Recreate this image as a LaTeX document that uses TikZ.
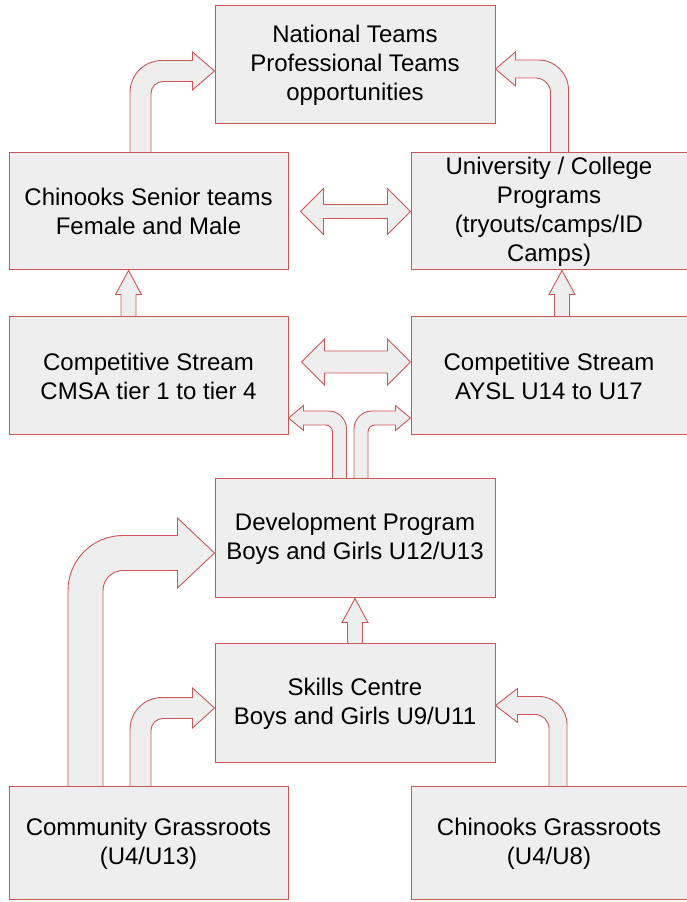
\documentclass[tikz,border=0pt]{standalone}
\usepackage{fontspec}
\setmainfont{Liberation Sans}
\usetikzlibrary{positioning, calc}
\definecolor{boxred}{RGB}{205,85,85}
\definecolor{boxgray}{RGB}{238,238,238}
\tikzset{
    block/.style={
        draw=boxred, fill=boxgray, line width=1pt,
        minimum width=279pt, minimum height=118pt,
        inner sep=0pt, align=center,
        font=\fontsize{24}{29}\selectfont
    },
    fat/.style={draw=boxred, fill=boxgray, line width=0.9pt, line join=miter}
}
% straight block arrow: #1 foot, #2 tip (only its y is used)
\newcommand{\fatup}[2]{%
  \draw[fat] let \p1=(#1), \p2=(#2) in
    (\x1-7.5pt,\y1) -- (\x1-7.5pt,\y2-24pt) -- (\x1-13pt,\y2-24pt) -- (\x1,\y2)
    -- (\x1+13pt,\y2-24pt) -- (\x1+7.5pt,\y2-24pt) -- (\x1+7.5pt,\y1) -- cycle;}
% double block arrow: #1 left tip, #2 right tip, #3 half shaft
\newcommand{\fatboth}[3]{%
  \draw[fat] let \p1=(#1), \p2=(#2) in
    (\x1,\y1) -- (\x1+23pt,\y1+23pt) -- (\x1+23pt,\y1+#3pt) -- (\x2-23pt,\y1+#3pt)
    -- (\x2-23pt,\y1+23pt) -- (\x2,\y1) -- (\x2-23pt,\y1-23pt) -- (\x2-23pt,\y1-#3pt)
    -- (\x1+23pt,\y1-#3pt) -- (\x1+23pt,\y1-23pt) -- cycle;}
% bent block arrows: #1 foot, #2 tip, #3 half shaft, #4 half head,
% #5 head length, #6 outer radius, #7 inner radius
\newcommand{\bendright}[7]{%
  \draw[fat] let \p1=(#1), \p2=(#2) in
    (\x1-#3pt,\y1) -- (\x1-#3pt,\y2+#3pt-#6pt)
    arc[start angle=180, end angle=90, radius=#6pt]
    -- (\x2-#5pt,\y2+#3pt) -- (\x2-#5pt,\y2+#4pt) -- (\x2,\y2)
    -- (\x2-#5pt,\y2-#4pt) -- (\x2-#5pt,\y2-#3pt) -- (\x1+#3pt+#7pt,\y2-#3pt)
    arc[start angle=90, end angle=180, radius=#7pt]
    -- (\x1+#3pt,\y1) -- cycle;}
\newcommand{\bendleft}[7]{%
  \draw[fat] let \p1=(#1), \p2=(#2) in
    (\x1+#3pt,\y1) -- (\x1+#3pt,\y2+#3pt-#6pt)
    arc[start angle=0, end angle=90, radius=#6pt]
    -- (\x2+#5pt,\y2+#3pt) -- (\x2+#5pt,\y2+#4pt) -- (\x2,\y2)
    -- (\x2+#5pt,\y2-#4pt) -- (\x2+#5pt,\y2-#3pt) -- (\x1-#3pt-#7pt,\y2-#3pt)
    arc[start angle=90, end angle=0, radius=#7pt]
    -- (\x1-#3pt,\y1) -- cycle;}

\begin{document}
\begin{tikzpicture}[x=1pt, y=1pt]

    \useasboundingbox (0,0) rectangle (687,902);

    % top
    \node[block, minimum width=280pt] (national) at (355,837) {National Teams\\Professional Teams\\opportunities};

    % senior level
    \node[block, minimum height=117pt] (senior) at (148.5,690.5) {Chinooks Senior teams\\Female and Male};
    \node[block, minimum width=276pt, minimum height=117pt, right=122pt of senior] (univ) {University / College\\Programs\\(tryouts/camps/ID\\Camps)};

    % competitive streams
    \node[block, below=46pt of senior] (compl) {Competitive Stream\\CMSA tier 1 to tier 4};
    \node[block, minimum width=276pt, below=46pt of univ] (compr) {Competitive Stream\\AYSL U14 to U17};

    % development and skills
    \node[block, minimum width=280pt, minimum height=119pt] (devel) at (355,363.5) {Development Program\\Boys and Girls U12/U13};
    \node[block, minimum width=280pt, minimum height=119pt, below=45pt of devel] (skills) {Skills Centre\\Boys and Girls U9/U11};

    % grassroots
    \node[block, minimum height=113pt] (community) at (148.5,58.5) {Community Grassroots\\(U4/U13)};
    \node[block, minimum width=276pt, minimum height=113pt, right=122pt of community] (grass) {Chinooks Grassroots\\(U4/U8)};

    % Arrows
    \fatup{$(compl.north)+(-20,0)$}{senior.south}
    \fatup{$(compr.north)+(13,0)$}{univ.south}
    \fatup{skills.north}{devel.south}

    \fatboth{$(senior.east)+(12,0)$}{univ.west}{7}
    \fatboth{$(compl.east)+(13,14)$}{$(compr.west)+(0,14)$}{11}

    \bendright{$(senior.north)+(-8,0)$}{$(national.west)+(0,-6)$}{10.5}{19}{22}{32}{12}
    \bendleft{$(univ.north)+(10.5,0)$}{$(national.east)+(0,-4)$}{9}{17}{20}{30}{15}
    \bendleft{$(devel.north)+(-15.5,0)$}{$(compl.east)+(0,-42)$}{7}{12.5}{15}{18}{7}
    \bendright{$(devel.north)+(6,0)$}{$(compr.west)+(0,-42)$}{7}{12.5}{15}{18}{7}
    \bendright{$(community.north)+(-63,0)$}{$(devel.west)+(0,-14.5)$}{17.5}{35}{37}{55}{20}
    \bendright{$(community.north)+(-8,0)$}{$(skills.west)+(0,-4.5)$}{10.5}{20}{22}{32}{12}
    \bendleft{$(grass.north)+(9,0)$}{$(skills.east)+(0,-2)$}{9}{17}{22}{28}{14}

\end{tikzpicture}
\end{document}
